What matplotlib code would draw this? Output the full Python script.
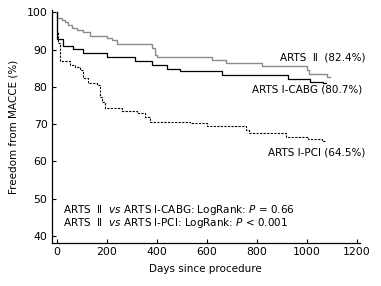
import matplotlib
matplotlib.use("Agg")
import matplotlib.pyplot as plt

plt.rcParams['font.family'] = ['DejaVu Sans', 'Noto Sans CJK SC']
plt.rcParams['mathtext.fontset'] = 'dejavusans'

# Kaplan-Meier step data (days, freedom from MACCE %)
arts2_days = [0, 3, 20, 33, 46, 60, 80, 106, 133, 200, 220, 240, 380, 393, 400, 621, 677, 820, 1000, 1010, 1080, 1092]
arts2_vals = [100, 98.4, 97.9, 97.5, 96.6, 95.7, 95.3, 94.8, 93.7, 93.0, 92.6, 91.4, 90.3, 88.5, 87.9, 87.2, 86.3, 85.7, 84.5, 83.5, 82.6, 82.6]

cabg_days = [0, 3, 25, 65, 105, 201, 313, 380, 442, 493, 661, 925, 1013, 1065, 1078]
cabg_vals = [100, 92.8, 91.0, 90.1, 89.2, 88.0, 86.9, 85.8, 84.9, 84.3, 83.1, 82.0, 81.4, 80.9, 80.9]

pci_days = [0, 2, 6, 13, 53, 73, 93, 106, 126, 160, 173, 180, 193, 260, 320, 353, 373, 533, 600, 755, 770, 915, 1005, 1060, 1078]
pci_vals = [100, 94.8, 91.7, 86.8, 85.9, 85.4, 84.5, 82.3, 81.0, 80.5, 77.4, 76.0, 74.3, 73.4, 72.9, 72.0, 70.7, 70.2, 69.6, 68.5, 67.6, 66.6, 66.0, 65.6, 65.6]

x_ticks = [0, 200, 400, 600, 800, 1000, 1200]
y_ticks = [40, 50, 60, 70, 80, 90, 100]

fig = plt.figure(figsize=(3.81, 2.86), dpi=100)
ax = fig.add_axes([0.1357, 0.150, 0.8093, 0.815])

ax.step(arts2_days, arts2_vals, where='post', color='#8c8c8c', lw=1.0)
ax.step(cabg_days, cabg_vals, where='post', color='black', lw=0.9)
ax.step(pci_days, pci_vals, where='post', color='black', lw=0.8, linestyle=(0, (2.0, 1.2)))

ax.set_xlim(-20, 1213)
ax.set_ylim(38.1, 100.6)
ax.set_xticks(x_ticks)
ax.set_yticks(y_ticks)
ax.tick_params(direction='in', length=3, width=0.8, labelsize=7.8, pad=3)
for s in ['top', 'right']:
    ax.spines[s].set_visible(False)
for s in ['left', 'bottom']:
    ax.spines[s].set_linewidth(0.9)

ax.set_xlabel('Days since procedure', fontsize=7.5, labelpad=5)
ax.set_ylabel('Freedom from MACCE (%)', fontsize=7.5, labelpad=6)

fs = 7.5
ax.text(1233, 88.0, 'ARTS  Ⅱ  (82.4%)', ha='right', va='center', fontsize=fs, clip_on=False)
ax.text(1221, 79.2, 'ARTS Ⅰ-CABG (80.7%)', ha='right', va='center', fontsize=fs, clip_on=False)
ax.text(1233, 62.3, 'ARTS Ⅰ-PCI (64.5%)', ha='right', va='center', fontsize=fs, clip_on=False)
ax.text(25, 47.0, r'ARTS  Ⅱ  $\mathit{vs}$ ARTS Ⅰ-CABG: LogRank: $\mathit{P}$ = 0.66', ha='left', va='center', fontsize=fs)
ax.text(25, 43.5, r'ARTS  Ⅱ  $\mathit{vs}$ ARTS Ⅰ-PCI: LogRank: $\mathit{P}$ < 0.001', ha='left', va='center', fontsize=fs)

fig.savefig('out.png', dpi=100)
